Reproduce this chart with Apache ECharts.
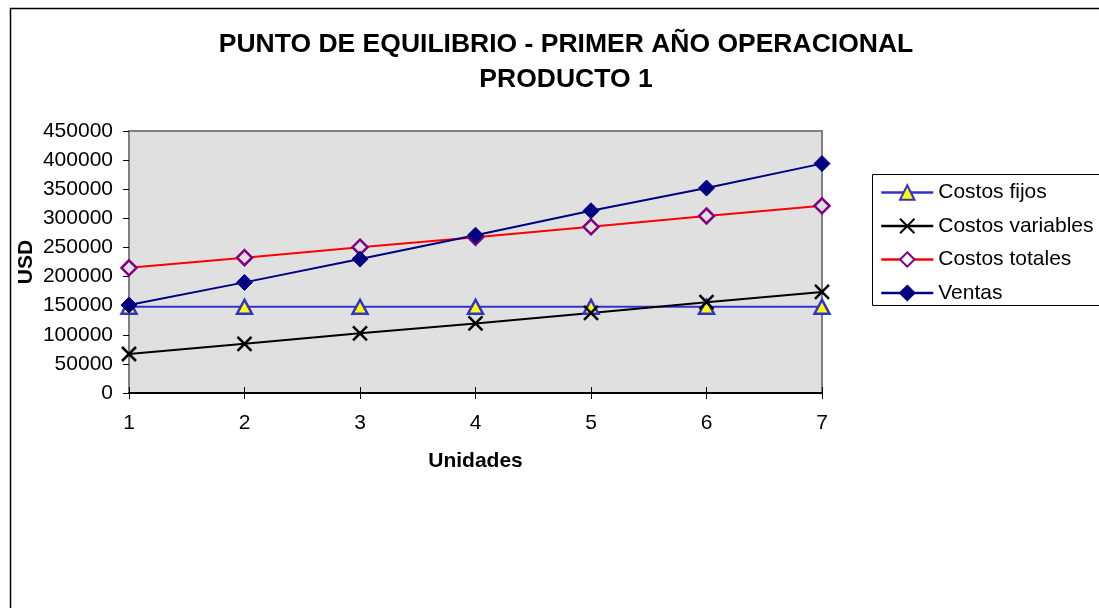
<!DOCTYPE html>
<html>
<head>
<meta charset="utf-8">
<script src="https://cdn.jsdelivr.net/npm/echarts@6/dist/echarts.min.js"></script>
<style>
  html, body { margin: 0; padding: 0; background: #fff; }
  #chart { width: 1099px; height: 608px; }
</style>
</head>
<body>
<div id="chart"></div>
<script>
// Break-even chart: fixed, variable and total costs against sales per unit count
const unidades = ['1', '2', '3', '4', '5', '6', '7'];
const costosFijos = [148000, 148000, 148000, 148000, 148000, 148000, 148000];
const costosVariables = [67000, 84500, 102500, 119500, 137500, 156000, 173500];
const costosTotales = [215000, 232500, 250500, 267500, 285500, 304000, 321500];
const ventas = [151000, 190000, 230000, 271000, 313000, 352000, 394000];

const FONT = '"Liberation Sans", Arial, sans-serif';
const chart = echarts.init(document.getElementById('chart'), null, { renderer: 'canvas' });

chart.setOption({
  animation: false,
  backgroundColor: '#ffffff',
  textStyle: { fontFamily: FONT },
  title: {
    text: 'PUNTO DE EQUILIBRIO - PRIMER AÑO OPERACIONAL\nPRODUCTO 1',
    left: 566,
    top: 27,
    textAlign: 'center',
    padding: 0,
    textStyle: { fontFamily: FONT, fontSize: 26.5, fontWeight: 'bold', color: '#000', lineHeight: 35 }
  },
  graphic: [
    { type: 'rect', shape: { x: 10.5, y: 8.5, width: 1200, height: 700 },
      style: { fill: 'none', stroke: '#000', lineWidth: 1.5 }, z: -10 },
    { type: 'rect', shape: { x: 872.5, y: 174.5, width: 400, height: 131 },
      style: { fill: '#fff', stroke: '#000', lineWidth: 1 }, z: -5 }
  ],
  legend: {
    orient: 'vertical',
    left: 880,
    top: 182,
    padding: 0,
    itemWidth: 52,
    itemHeight: 18,
    itemGap: 12.5,
    lineStyle: { width: 2.5 },
    textStyle: { fontFamily: FONT, fontSize: 21, color: '#000', lineHeight: 21 },
    data: [
      { name: 'Costos fijos' },
      { name: 'Costos variables' },
      { name: 'Costos totales', itemStyle: { color: '#ffffff' } },
      { name: 'Ventas' }
    ]
  },
  grid: {
    left: 129, right: 277, top: 131, bottom: 215,
    show: true,
    backgroundColor: '#e0e0e0',
    borderColor: '#808080',
    borderWidth: 2
  },
  xAxis: [
    {
      type: 'category',
      data: unidades,
      boundaryGap: false,
      position: 'bottom',
      name: 'Unidades',
      nameLocation: 'middle',
      nameGap: 58,
      nameMoveOverlap: false,
      nameTextStyle: { fontFamily: FONT, fontSize: 21, fontWeight: 'bold', color: '#000' },
      axisLine: { show: true, lineStyle: { color: '#000', width: 2 } },
      axisTick: { show: true, inside: false, length: 6, lineStyle: { color: '#000', width: 1 } },
      axisLabel: { fontFamily: FONT, fontSize: 21, color: '#000', margin: 20 },
      splitLine: { show: false }
    },
    {
      type: 'category',
      data: unidades,
      boundaryGap: false,
      position: 'bottom',
      offset: 0,
      axisLine: { show: false },
      axisTick: { show: true, inside: true, length: 6, lineStyle: { color: '#000', width: 1 } },
      axisLabel: { show: false },
      splitLine: { show: false }
    }
  ],
  yAxis: {
    type: 'value',
    min: 0,
    max: 450000,
    interval: 50000,
    name: 'USD',
    nameLocation: 'middle',
    nameRotate: 90,
    nameGap: 92,
    nameMoveOverlap: false,
    nameTextStyle: { fontFamily: FONT, fontSize: 21, fontWeight: 'bold', color: '#000' },
    axisLine: { show: false },
    axisTick: { show: true, length: 6, lineStyle: { color: '#000', width: 1 } },
    axisLabel: { fontFamily: FONT, fontSize: 21, color: '#000', margin: 16, formatter: v => String(v) },
    splitLine: { show: false }
  },
  series: [
    {
      name: 'Costos fijos',
      type: 'line',
      data: costosFijos,
      symbol: 'triangle',
      symbolSize: [15, 14],
      lineStyle: { color: '#3333cc', width: 2 },
      itemStyle: { color: '#ffff00', borderColor: '#3333cc', borderWidth: 2.5 }
    },
    {
      name: 'Costos variables',
      type: 'line',
      data: costosVariables,
      symbol: 'path://M0,0L10,10M10,0L0,10',
      symbolSize: 14,
      lineStyle: { color: '#000000', width: 2 },
      itemStyle: { color: 'rgba(0,0,0,0)', borderColor: '#000000', borderWidth: 2.5 }
    },
    {
      name: 'Costos totales',
      type: 'line',
      data: costosTotales,
      symbol: 'diamond',
      symbolSize: 15,
      lineStyle: { color: '#ff0000', width: 2 },
      itemStyle: { color: '#e0e0e0', borderColor: '#800080', borderWidth: 2.5 }
    },
    {
      name: 'Ventas',
      type: 'line',
      data: ventas,
      symbol: 'diamond',
      symbolSize: 16,
      lineStyle: { color: '#000080', width: 2 },
      itemStyle: { color: '#000080', borderColor: '#000080', borderWidth: 1 }
    }
  ]
});
</script>
</body>
</html>
